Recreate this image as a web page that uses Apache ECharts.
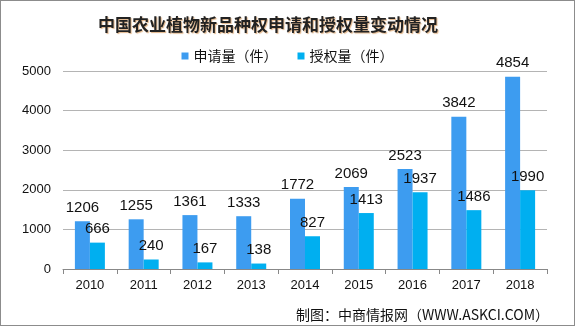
<!DOCTYPE html>
<html>
<head>
<meta charset="utf-8">
<script src="https://cdn.jsdelivr.net/npm/echarts@6/dist/echarts.min.js"></script>
<style>
  html, body { margin: 0; padding: 0; background: #fff; }
  #chart { width: 575px; height: 326px; box-sizing: border-box; border: 1px solid #8c8c8c; }
</style>
</head>
<body>
<div id="chart"></div>
<script>
// Years on the category axis
const years = ['2010', '2011', '2012', '2013', '2014', '2015', '2016', '2017', '2018'];
// Applications filed (件)
const applications = [1206, 1255, 1361, 1333, 1772, 2069, 2523, 3842, 4854];
// Grants issued (件)
const grants = [666, 240, 167, 138, 827, 1413, 1937, 1486, 1990];
// Value axis ticks
const yTicks = [0, 1000, 2000, 3000, 4000, 5000];

const seriesNames = ['申请量（件）', '授权量（件）'];
const colors = ['#3d9cf0', '#00aff0'];
const baseFont = 'Liberation Sans, DejaVu Sans, sans-serif';
const cjkFont = 'Noto Sans CJK SC, sans-serif';

const chart = echarts.init(document.getElementById('chart'), null, { renderer: 'canvas' });

const labelStyle = {
  show: true,
  position: 'top',
  distance: 6,
  color: '#111',
  fontSize: 15,
  fontFamily: baseFont
};

chart.setOption({
  animation: false,
  textStyle: { fontFamily: baseFont },
  title: [{
    text: '中国农业植物新品种权申请和授权量变动情况',
    left: 262,
    textAlign: 'center',
    top: 10,
    textStyle: {
      fontSize: 17,
      fontWeight: 'bold',
      color: '#222',
      fontFamily: cjkFont,
      textShadowColor: 'rgba(200,120,40,0.55)',
      textShadowBlur: 1,
      textShadowOffsetX: 1,
      textShadowOffsetY: 1
    }
  }, {
    text: '制图：中商情报网（WWW.ASKCI.COM）',
    right: 20,
    top: 302,
    textStyle: {
      fontSize: 14,
      fontWeight: 'normal',
      color: '#111',
      fontFamily: cjkFont
    }
  }],
  legend: {
    data: seriesNames,
    top: 43,
    left: 'center',
    itemWidth: 7,
    itemHeight: 7,
    itemGap: 20,
    icon: 'rect',
    textStyle: { fontSize: 14, color: '#111', fontFamily: cjkFont }
  },
  grid: { left: 62, right: 27, top: 70, bottom: 56, containLabel: false },
  xAxis: {
    type: 'category',
    data: years,
    axisLine: { lineStyle: { color: '#888', width: 1 } },
    axisTick: { show: true, alignWithLabel: false, length: 5, lineStyle: { color: '#888' } },
    axisLabel: { color: '#111', fontSize: 13, margin: 10 }
  },
  yAxis: {
    type: 'value',
    min: yTicks[0],
    max: yTicks[yTicks.length - 1],
    interval: yTicks[1] - yTicks[0],
    axisLine: { show: false },
    axisTick: { show: false },
    axisLabel: { color: '#111', fontSize: 13, margin: 12, formatter: v => String(v) },
    splitLine: { lineStyle: { color: '#b4b4b4', width: 1 } }
  },
  series: [{
    name: seriesNames[0],
    type: 'bar',
    data: applications,
    barWidth: 15,
    barGap: '0%',
    itemStyle: { color: colors[0] },
    label: labelStyle
  }, {
    name: seriesNames[1],
    type: 'bar',
    data: grants,
    barWidth: 15,
    barGap: '0%',
    itemStyle: { color: colors[1] },
    label: labelStyle
  }]
});
</script>
</body>
</html>
